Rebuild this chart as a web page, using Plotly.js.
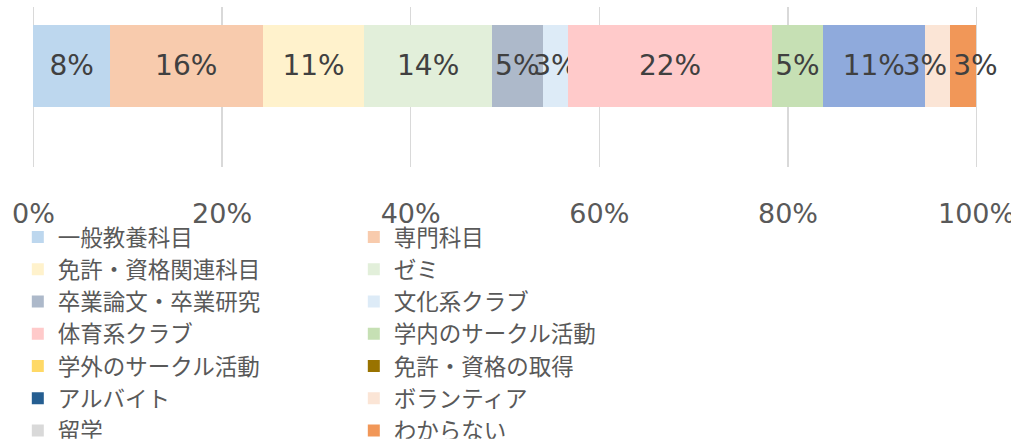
<!DOCTYPE html>
<html>
<head>
<meta charset="utf-8">
<script src="https://cdn.plot.ly/plotly-3.0.1.min.js"></script>
<style>html,body{margin:0;padding:0;background:#fff;}#chart{width:1011px;height:446px;}</style>
</head>
<body>
<div id="chart"></div>
<script>
// Categories (stack order, left to right) and their shares in percent
const categories = ["一般教養科目","専門科目","免許・資格関連科目","ゼミ","卒業論文・卒業研究","文化系クラブ","体育系クラブ","学内のサークル活動","学外のサークル活動","免許・資格の取得","アルバイト","ボランティア","留学","わからない"];
const values = [8.1, 16.2, 10.8, 13.5, 5.4, 2.7, 21.6, 5.4, 0, 0, 10.8, 2.7, 0, 2.7];
// Bar fill colours and legend swatch colours
const barColors = ["#BDD7EE","#F8CBAD","#FFF2CC","#E2EFDA","#ADB9CA","#DDEBF7","#FFCACA","#C6E0B4","#FFD966","#997300","#8FAADC","#FBE5D6","#D9D9D9","#F19758"];
const legendColors = ["#BDD7EE","#F8CBAD","#FFF2CC","#E2EFDA","#ADB9CA","#DDEBF7","#FFCACA","#C6E0B4","#FFD966","#997300","#255E91","#FBE5D6","#D9D9D9","#F19758"];
const rowLabel = ["全体"];
const tickVals = [0, 20, 40, 60, 80, 100];
const tickText = ["0%", "20%", "40%", "60%", "80%", "100%"];

// label placement tweaks (style only): labels nudged apart where neighbours collide
const labelAnchor = {"ボランティア": "end", "わからない": "start"};

const traces = [];
categories.forEach((name, i) => {
  const sameColor = barColors[i] === legendColors[i];
  traces.push({
    type: "bar",
    orientation: "h",
    name: name,
    y: rowLabel,
    x: [values[i]],
    width: 0.512,
    marker: {color: barColors[i], line: {width: 0}},
    texttemplate: values[i] > 0 ? "%{x:.0f}%" : "",
    textposition: "inside",
    insidetextanchor: labelAnchor[name] || "middle",
    constraintext: "none",
    textangle: 0,
    cliponaxis: false,
    textfont: {family: "DejaVu Sans, Noto Sans CJK JP", size: 28, color: "#404040"},
    showlegend: sameColor,
    legendrank: i + 1,
    hoverinfo: "skip"
  });
  if (!sameColor) {
    traces.push({
      type: "bar",
      orientation: "h",
      name: name,
      y: rowLabel,
      x: [null],
      marker: {color: legendColors[i]},
      showlegend: true,
      legendrank: i + 1,
      hoverinfo: "skip"
    });
  }
});

const layout = {
  width: 1011,
  height: 446,
  margin: {l: 32, r: 33, t: 7, b: 269, pad: 0},
  paper_bgcolor: "#ffffff",
  plot_bgcolor: "#ffffff",
  barmode: "stack",
  showlegend: true,
  hovermode: false,
  xaxis: {
    range: [-0.15, 100.15],
    tickvals: tickVals,
    ticktext: tickText,
    showgrid: true,
    gridcolor: "#D9D9D9",
    gridwidth: 1.5,
    zeroline: false,
    showline: false,
    ticks: "",
    ticklabelstandoff: 28,
    ticklabeloverflow: "allow",
    tickfont: {family: "DejaVu Sans", size: 27, color: "#595959"},
    fixedrange: true
  },
  yaxis: {
    type: "category",
    range: [-0.632, 0.368],
    showticklabels: false,
    showgrid: false,
    zeroline: false,
    showline: false,
    ticks: "",
    fixedrange: true
  },
  legend: {
    orientation: "h",
    entrywidth: 291,
    entrywidthmode: "pixels",
    x: -0.015,
    xanchor: "left",
    y: -0.305,
    yanchor: "top",
    traceorder: "normal",
    font: {family: "Noto Sans CJK JP", size: 22.5, color: "#595959"},
    bgcolor: "rgba(0,0,0,0)",
    itemclick: false,
    itemdoubleclick: false
  }
};

Plotly.newPlot("chart", traces, layout, {displayModeBar: false, staticPlot: true});
</script>
</body>
</html>
